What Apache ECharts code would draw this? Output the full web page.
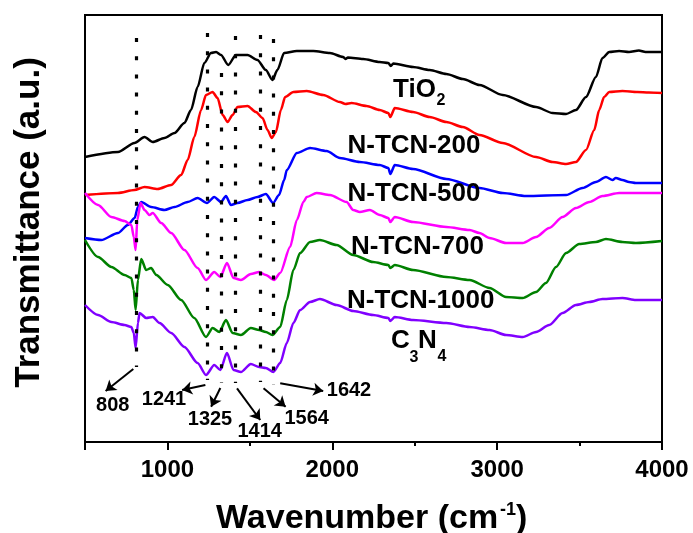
<!DOCTYPE html>
<html>
<head>
<meta charset="utf-8">
<script src="https://cdn.jsdelivr.net/npm/echarts@6/dist/echarts.min.js"></script>
<style>
html,body{margin:0;padding:0;background:#fff;}
#chart{width:693px;height:533px;}
</style>
</head>
<body>
<div id="chart"></div>
<script>
// ---- data (wavenumber, transmittance in arbitrary units) ----
const seriesNames = ['TiO2', 'N-TCN-200', 'N-TCN-500', 'N-TCN-700', 'N-TCN-1000', 'C3N4'];
const seriesColors = ['#000000', '#ff0000', '#0000ff', '#ff00ff', '#008000', '#8000ff'];

const tio2 = [[500,285],[700,290],[800,299],[861,305],[911,300],[982,304],[1043,309],[1103,319],[1143,332],[1183,355],[1224,379],[1264,389],[1295,390],[1325,387],[1369,377],[1415,387],[1486,387],[1546,382],[1597,372],[1637,362],[1667,372],[1708,389],[1785,391],[1885,391],[1986,389],[2066,385],[2080,383],[2095,384.5],[2187,383],[2288,380],[2340,379],[2355,376],[2370,378.5],[2490,375],[2591,372],[2692,368],[2792,363],[2893,357],[3034,347],[3236,335],[3336,329],[3418,328],[3478,332],[3539,345],[3599,365],[3639,384],[3680,390],[3740,391],[3800,390],[3860,391.5],[3900,390],[4000,390]];

const ntcn200 = [[500,247],[700,249],[800,252],[861,255],[941,253],[1022,257],[1083,267],[1123,282],[1163,305],[1204,332],[1234,347],[1274,350],[1304,344],[1335,327],[1365,320],[1395,327],[1425,335],[1486,336],[1537,330],[1577,324],[1607,312],[1633,304],[1658,310],[1688,332],[1714,345],[1764,350],[1845,351],[1945,347],[2046,340],[2080,338],[2117,339],[2208,336],[2288,332],[2340,329],[2352,325],[2379,334],[2490,330],[2591,325],[2692,320],[2792,315],[2893,307],[3034,299],[3236,285],[3336,280],[3418,278],[3478,280],[3539,292],[3589,312],[3619,332],[3649,345],[3680,350],[3760,351],[3850,350],[3920,349.5],[4000,349]];

const ntcn500 = [[500,204],[599,202],[700,209],[760,217],[801,224],[821,235],[841,240],[901,235],[982,232],[1043,235],[1123,240],[1183,244],[1240,239],[1284,245],[1325,240],[1355,246],[1385,237],[1425,239],[1486,242],[1546,245],[1597,248],[1641,239],[1677,247],[1708,262],[1724,272],[1785,289],[1865,294],[1966,291],[2046,284],[2167,280],[2288,277],[2340,274],[2352,268],[2379,277],[2490,273],[2692,263],[2893,254],[3034,249],[3175,246],[3418,247],[3518,254],[3599,260],[3660,265],[3700,262],[3720,264],[3760,262],[3800,260],[3841,259],[3920,259],[4000,259]];

const ntcn700 = [[500,249],[579,237],[660,225],[740,221],[781,217],[796,205],[807,192],[817,222],[837,239],[861,232],[891,227],[911,229],[962,219],[1023,209],[1103,192],[1183,174],[1234,162],[1284,170],[1321,165],[1361,179],[1401,164],[1446,162],[1506,168],[1556,170],[1597,167],[1647,162],[1684,169],[1744,195],[1785,222],[1825,240],[1845,245],[1905,249],[1986,247],[2087,240],[2127,232],[2167,230],[2228,232],[2288,227],[2340,224],[2352,220],[2379,225],[2490,220],[2692,215],[2833,212],[2893,209],[2954,204],[3054,199],[3155,199],[3236,205],[3316,214],[3397,225],[3478,234],[3559,240],[3639,246],[3740,249],[3860,249],[4000,249]];

const ntcn1000 = [[500,202],[579,185],[660,175],[740,167],[781,164],[796,152],[807,132],[821,162],[841,183],[871,172],[901,174],[932,167],[1002,157],[1083,142],[1163,124],[1234,105],[1274,114],[1315,110],[1355,122],[1395,109],[1446,107],[1506,114],[1556,112],[1597,110],[1637,107],[1684,115],[1724,142],[1764,172],[1805,189],[1865,200],[1925,202],[2026,197],[2127,187],[2248,180],[2340,177],[2352,174],[2379,177],[2490,172],[2692,165],[2833,162],[2954,154],[3054,145],[3155,144],[3236,150],[3296,159],[3357,175],[3418,189],[3498,198],[3599,200],[3660,203],[3760,200],[3841,199],[4000,201]];

const c3n4 = [[500,137],[579,127],[660,120],[740,117],[781,115],[796,109],[807,94],[821,119],[831,129],[871,124],[911,125],[952,119],[1023,109],[1103,95],[1183,79],[1234,67],[1284,77],[1321,72],[1361,89],[1401,72],[1446,70],[1506,78],[1556,75],[1597,74],[1643,70],[1684,79],[1724,99],[1764,119],[1805,132],[1865,140],[1925,143],[2026,137],[2127,131],[2248,127],[2340,124],[2352,121],[2379,125],[2490,122],[2692,119],[2833,115],[2954,112],[3054,107],[3155,105],[3236,110],[3316,117],[3397,129],[3478,137],[3559,140],[3639,143],[3760,144],[3841,142],[4000,142]];

const allSeries = [tio2, ntcn200, ntcn500, ntcn700, ntcn1000, c3n4];

// marked band positions (cm-1) with dotted guide extents
const peakWn = [808, 1241, 1325, 1414, 1564, 1642];
const guideTop = [404, 409, 369, 406, 407, 403];
const guideBottom = [75, 62, 59, 59, 60, 57];
// arrows: [wnStart, vStart, wnEnd, vEnd]
const arrows = [[793,73,625,51],[1230,57,1089,52],[1321,54,1265,35.3],[1422,53.7,1563,22],[1583,53.7,1717,35.3],[1684,58.7,1945,51]];
const peakLabels = ['808', '1241', '1325', '1414', '1564', '1642'];

const xMajorTicks = [500, 1000, 2000, 3000, 4000];
const xMinorTicks = [1500, 2500, 3500];
const xTickLabels = [1000, 2000, 3000, 4000];

const FONT = '"Liberation Sans", Arial, sans-serif';
const chart = echarts.init(document.getElementById('chart'), null, {renderer: 'canvas'});

const lineSeries = allSeries.map((d, i) => ({
  name: seriesNames[i], type: 'line', data: d, showSymbol: false, symbol: 'none',
  smooth: 0.25, smoothMonotone: 'x',
  lineStyle: {color: seriesColors[i], width: 2.5}, itemStyle: {color: seriesColors[i]},
  animation: false, z: 2
}));

const guideLines = peakWn.map((w, i) => [
  {coord: [w, guideTop[i]], symbol: 'none'},
  {coord: [w, guideBottom[i]], symbol: 'none'}
]);
const arrowLines = arrows.map(a => [
  {coord: [a[0], a[1]], symbol: 'none'},
  {coord: [a[2], a[3]], symbol: 'arrow', symbolSize: 10}
]);

lineSeries.push({
  type: 'line', data: [], showSymbol: false, silent: true, animation: false, z: 5,
  markLine: {
    silent: true, animation: false, symbol: 'none', label: {show: false},
    lineStyle: {color: '#000', width: 3.2, type: [4, 14.2], cap: 'butt'},
    emphasis: {disabled: true},
    data: guideLines
  }
});
lineSeries.push({
  type: 'line', data: [], showSymbol: false, silent: true, animation: false, z: 5,
  markLine: {
    silent: true, animation: false, label: {show: false},
    symbol: ['none', 'arrow'], symbolSize: 10,
    lineStyle: {color: '#000', width: 2, type: 'solid'},
    itemStyle: {color: '#000'},
    emphasis: {disabled: true},
    data: arrowLines
  }
});

function txt(t, x, y, size, opts) {
  opts = opts || {};
  return {
    type: 'text', x: x, y: y, rotation: opts.rotation || 0, z: 10,
    style: {text: t, fill: '#000', font: 'bold ' + size + 'px ' + FONT,
      align: opts.align || 'left', verticalAlign: opts.va || 'middle'}
  };
}

const peakLabelPos = [[112.7, 405], [164, 399], [210, 419], [259.7, 431], [306.7, 418], [349, 390]];
const graphics = [
  txt('TiO', 393, 90, 26), txt('2', 436.5, 101, 16),
  txt('N-TCN-200', 347.5, 145.5, 26),
  txt('N-TCN-500', 347.5, 194, 26),
  txt('N-TCN-700', 351, 247, 26),
  txt('N-TCN-1000', 347, 300.5, 26),
  txt('C', 391, 341, 26), txt('3', 409.5, 358, 16), txt('N', 418, 341, 26), txt('4', 437.5, 357, 16),
  txt('Transmittance (a.u.)', 29.5, 222.5, 35, {align: 'center', rotation: Math.PI / 2}),
  txt('Wavenumber (cm', 216, 519, 34), txt('-1', 500, 510, 18), txt(')', 516, 519, 34)
];
peakLabels.forEach((t, i) => graphics.push(txt(t, peakLabelPos[i][0], peakLabelPos[i][1], 20, {align: 'center'})));

chart.setOption({
  backgroundColor: '#fff',
  animation: false,
  grid: {left: 85, right: 31, top: 15, bottom: 91, show: true, borderColor: '#000', borderWidth: 2, backgroundColor: 'transparent'},
  xAxis: [{
    type: 'value', min: 500, max: 4000, interval: 500,
    axisLine: {show: true, lineStyle: {color: '#000', width: 2}},
    axisTick: {show: true, length: 8, customValues: xMajorTicks, lineStyle: {color: '#000', width: 2}},
    axisLabel: {show: true, customValues: xTickLabels, formatter: v => String(v), color: '#000', fontSize: 24, fontWeight: 'bold', fontFamily: FONT, margin: 16},
    splitLine: {show: false}
  }, {
    type: 'value', min: 500, max: 4000, position: 'bottom', interval: 500,
    axisLine: {show: false},
    axisTick: {show: true, length: 4, customValues: xMinorTicks, lineStyle: {color: '#000', width: 2}},
    axisLabel: {show: false},
    splitLine: {show: false}
  }],
  yAxis: {
    type: 'value', min: 0, max: 427,
    axisLine: {show: true, lineStyle: {color: '#000', width: 2}},
    axisTick: {show: false}, axisLabel: {show: false}, splitLine: {show: false}
  },
  series: lineSeries,
  graphic: graphics
});
</script>
</body>
</html>
